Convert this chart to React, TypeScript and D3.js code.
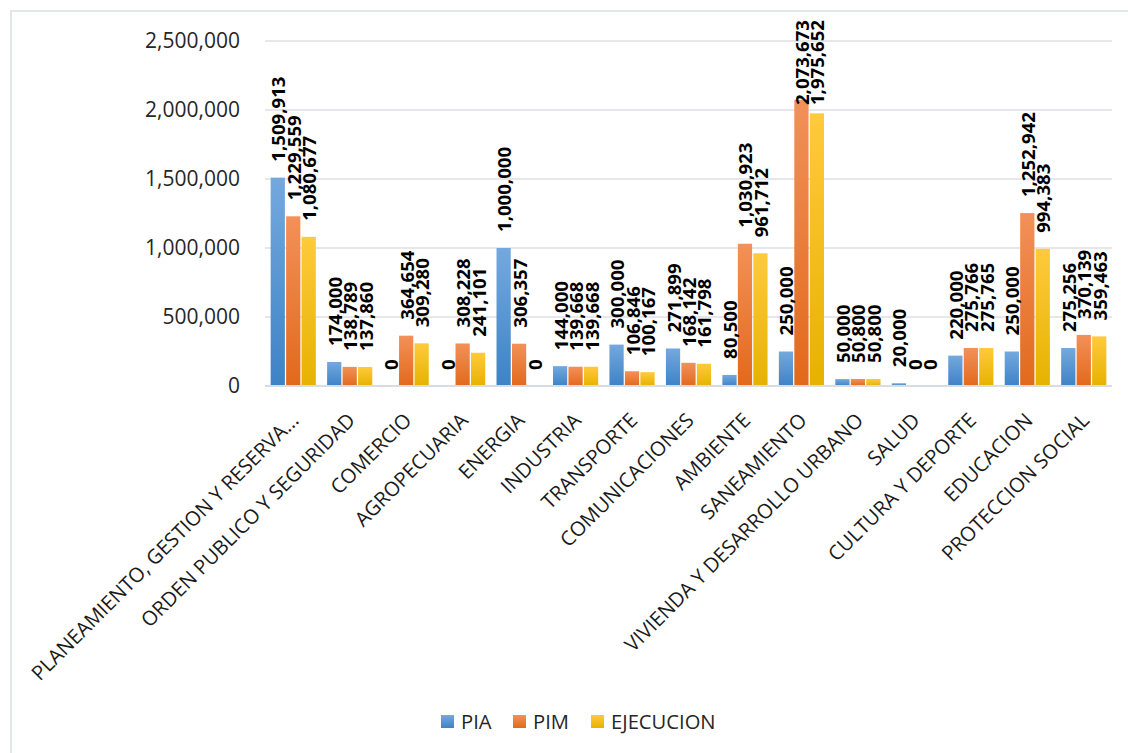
import React, { useEffect, useRef } from "react";
import * as d3 from "d3";

const categories = [
  "PLANEAMIENTO, GESTION Y RESERVA...",
  "ORDEN PUBLICO Y SEGURIDAD",
  "COMERCIO",
  "AGROPECUARIA",
  "ENERGIA",
  "INDUSTRIA",
  "TRANSPORTE",
  "COMUNICACIONES",
  "AMBIENTE",
  "SANEAMIENTO",
  "VIVIENDA Y DESARROLLO URBANO",
  "SALUD",
  "CULTURA Y DEPORTE",
  "EDUCACION",
  "PROTECCION SOCIAL",
];
const pia = [1509913, 174000, 0, 0, 1000000, 144000, 300000, 271899, 80500, 250000, 50000, 20000, 220000, 250000, 275256];
const pim = [1229559, 138789, 364654, 308228, 306357, 139668, 106846, 168142, 1030923, 2073673, 50800, 0, 275766, 1252942, 370139];
const ejecucion = [1080677, 137860, 309280, 241101, 0, 139668, 100167, 161798, 961712, 1975652, 50800, 0, 275765, 994383, 359463];
const seriesNames = ["PIA", "PIM", "EJECUCION"];
const yTicks = [0, 500000, 1000000, 1500000, 2000000, 2500000];

const W = 1128;
const H = 753;
const FONT = "'Open Sans', 'Noto Sans', sans-serif";

export default function App() {
  const ref = useRef<SVGSVGElement | null>(null);

  useEffect(() => {
    const svg = d3.select(ref.current);
    svg.selectAll("*").remove();

    const defs = svg.append("defs");
    const grads = [
      ["g0", "#74a9de", "#3e82c6"],
      ["g1", "#f29159", "#e2691b"],
      ["g2", "#ffca3c", "#e6b200"],
    ];
    grads.forEach(([id, top, bot]) => {
      const g = defs.append("linearGradient").attr("id", id).attr("x1", 0).attr("y1", 0).attr("x2", 0).attr("y2", 1);
      g.append("stop").attr("offset", "0%").attr("stop-color", top);
      g.append("stop").attr("offset", "100%").attr("stop-color", bot);
    });

    // chart border
    svg.append("rect").attr("x", 11).attr("y", 11).attr("width", 1300).attr("height", 900)
      .attr("fill", "white").attr("stroke", "#d9dde3").attr("stroke-width", 1.5);

    const left = 265, right = 1112, top = 41, bottom = 386;
    const y = d3.scaleLinear().domain([0, 2500000]).range([bottom, top]);
    const x0 = d3.scaleBand<string>().domain(categories).range([left, right]).paddingInner(0.2).paddingOuter(0.1);
    const x1 = d3.scaleBand<string>().domain(seriesNames).range([0, x0.bandwidth()]).paddingInner(0.08);

    // gridlines
    svg.append("g").selectAll("line").data(yTicks.filter(t => t > 0)).join("line")
      .attr("x1", left).attr("x2", right)
      .attr("y1", d => y(d)).attr("y2", d => y(d))
      .attr("stroke", "#dcdfe4").attr("stroke-width", 1.5);

    // y tick labels
    svg.append("g").selectAll("text").data(yTicks).join("text")
      .attr("x", 240).attr("y", d => y(d)).attr("dy", "0.35em")
      .attr("text-anchor", "end").attr("font-family", FONT).attr("font-size", 21)
      .attr("fill", "#262626")
      .text(d => d3.format(",")(d));

    const allSeries = [pia, pim, ejecucion];

    // bars
    allSeries.forEach((vals, si) => {
      svg.append("g").selectAll("rect").data(vals).join("rect")
        .attr("x", (_, i) => (x0(categories[i]) as number) + (x1(seriesNames[si]) as number))
        .attr("width", x1.bandwidth())
        .attr("y", d => y(d))
        .attr("height", d => bottom - y(d))
        .attr("fill", `url(#g${si})`);
    });

    // baseline
    svg.append("line").attr("x1", left).attr("x2", right).attr("y1", bottom).attr("y2", bottom)
      .attr("stroke", "#d9dde3").attr("stroke-width", 2);

    // data labels
    const labelGap = 16;
    const minTop = 20;
    allSeries.forEach((vals, si) => {
      const g = svg.append("g");
      vals.forEach((v, i) => {
        const cx = (x0(categories[i]) as number) + (x1(seriesNames[si]) as number) + x1.bandwidth() / 2;
        const t = g.append("text")
          .attr("text-anchor", "start").attr("dominant-baseline", "central")
          .attr("font-family", FONT).attr("font-size", 18.6).attr("font-weight", "bold")
          .attr("fill", "#000")
          .text(d3.format(",")(v));
        const len = (t.node() as SVGTextElement).getComputedTextLength();
        let start = y(v) - labelGap;
        if (start - len < minTop) start = minTop + len;
        t.attr("transform", `translate(${cx},${start}) rotate(-90)`);
      });
    });

    // category labels
    svg.append("g").selectAll("text").data(categories).join("text")
      .attr("transform", d => `translate(${(x0(d) as number) + x0.bandwidth() / 2 + 1},416) rotate(-45)`)
      .attr("text-anchor", "end").attr("dominant-baseline", "central")
      .attr("font-family", FONT).attr("font-size", 20.2).attr("fill", "#1a1a1a")
      .text(d => d);

    // legend
    const legendX = [441, 513, 591];
    const lg = svg.append("g");
    seriesNames.forEach((n, i) => {
      lg.append("rect").attr("x", legendX[i]).attr("y", 715).attr("width", 13).attr("height", 13).attr("fill", `url(#g${i})`);
      lg.append("text").attr("x", legendX[i] + 20).attr("y", 722).attr("dy", "0.35em")
        .attr("font-family", FONT).attr("font-size", 20.2).attr("fill", "#262626").text(n);
    });
  }, []);

  return (
    <svg ref={ref} width={W} height={H} style={{ position: "absolute", left: 0, top: 0, background: "white" }} />
  );
}
